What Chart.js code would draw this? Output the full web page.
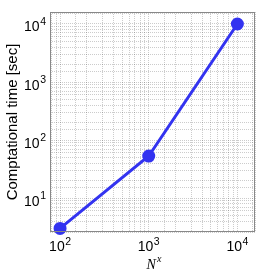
<!DOCTYPE html>
<html>
<head>
<meta charset="utf-8">
<script src="https://cdn.jsdelivr.net/npm/chart.js@4/dist/chart.umd.min.js"></script>
<style>
html,body{margin:0;padding:0;background:#fff;}
#wrap{width:273px;height:273px;}
</style>
</head>
<body>
<div id="wrap"><canvas id="c" width="273" height="273"></canvas></div>
<script>
const nValues = [100, 1000, 10000];
const timeValues = [3, 53, 10000];
const xRange = [77, 15800];
const yRange = [2.6, 16100];
const xTitleBase = 'N';
const xTitleSup = 'x';
const yTitle = 'Comptational time [sec]';

const SANS = 'Liberation Sans, Arial, Helvetica, sans-serif';
const SERIF = 'Liberation Serif, DejaVu Serif, serif';

function decadesIn(min, max){
  const out = [];
  for (let e = Math.ceil(Math.log10(min)); e <= Math.floor(Math.log10(max)); e++) out.push(e);
  return out;
}

function drawPow(ctx, e, cx, baseline, align){
  const base = '10', sup = String(e);
  ctx.font = '14px ' + SANS;
  const wb = ctx.measureText(base).width;
  ctx.font = '10.5px ' + SANS;
  const ws = ctx.measureText(sup).width;
  const total = wb + ws + 0.5;
  let x0 = align === 'right' ? cx - total : cx - total / 2;
  ctx.textAlign = 'left';
  ctx.textBaseline = 'alphabetic';
  ctx.font = '14px ' + SANS;
  ctx.fillText(base, x0, baseline);
  ctx.font = '10.5px ' + SANS;
  ctx.fillText(sup, x0 + wb + 0.5, baseline - 6.5);
}

const labelPlugin = {
  id: 'labels',
  afterDraw(chart){
    const a = chart.chartArea, ctx = chart.ctx;
    ctx.save();
    ctx.strokeStyle = '#888';
    ctx.lineWidth = 1;
    ctx.setLineDash([]);
    ctx.strokeRect(Math.round(a.left)+0.5, Math.round(a.top)+0.5, Math.round(a.right-a.left)-1, Math.round(a.bottom-a.top)-1);
    ctx.fillStyle = '#000';
    const xs = chart.scales.x, ys = chart.scales.y;
    decadesIn(xRange[0], xRange[1]).forEach(e => {
      drawPow(ctx, e, xs.getPixelForValue(Math.pow(10, e)), a.bottom + 19, 'center');
    });
    decadesIn(yRange[0], yRange[1]).forEach(e => {
      drawPow(ctx, e, a.left - 4, ys.getPixelForValue(Math.pow(10, e)) + 7.5, 'right');
    });
    // x title
    ctx.font = 'italic 14px ' + SERIF;
    const wN = ctx.measureText(xTitleBase).width;
    ctx.font = 'italic 10px ' + SERIF;
    const wX = ctx.measureText(xTitleSup).width;
    const cx = (a.left + a.right) / 2 + 1.5;
    const x0 = cx - (wN + wX + 1) / 2;
    ctx.textAlign = 'left';
    ctx.textBaseline = 'alphabetic';
    ctx.font = 'italic 14px ' + SERIF;
    ctx.fillText(xTitleBase, x0, 268.5);
    ctx.font = 'italic 10px ' + SERIF;
    ctx.fillText(xTitleSup, x0 + wN + 1, 262);
    ctx.restore();
  }
};

const gridCommon = {
  color: 'rgba(0,0,0,0.2)',
  lineWidth: 1,
  drawTicks: false
};

new Chart(document.getElementById('c'), {
  type: 'line',
  data: {
    datasets: [{
      data: nValues.map((n,i) => ({x:n, y:timeValues[i]})),
      borderColor: '#3333f0',
      backgroundColor: '#3333f0',
      borderWidth: 3,
      pointRadius: 5,
      pointHoverRadius: 5,
      clip: false,
      tension: 0
    }]
  },
  options: {
    responsive: false,
    animation: false,
    events: [],
    layout: { padding: { top: 12, right: 18, left: 0, bottom: 0 } },
    plugins: { legend: {display:false}, tooltip: {enabled:false} },
    scales: {
      x: {
        type: 'logarithmic',
        min: xRange[0], max: xRange[1],
        grid: gridCommon,
        border: { display: false, dash: [1,1] },
        afterFit(s){ s.height = 41; },
        ticks: { autoSkip: false, maxRotation: 0, padding: 0, callback: () => '' }
      },
      y: {
        type: 'logarithmic',
        min: yRange[0], max: yRange[1],
        grid: gridCommon,
        border: { display: false, dash: [1,1] },
        afterFit(s){ s.width = 50; },
        ticks: { autoSkip: false, padding: 0, callback: () => '' },
        title: {
          display: true, text: yTitle, color: '#000', padding: {top: 4, bottom: 0},
          font: { family: SANS, size: 15 }
        }
      }
    }
  },
  plugins: [labelPlugin]
});
</script>
</body>
</html>
